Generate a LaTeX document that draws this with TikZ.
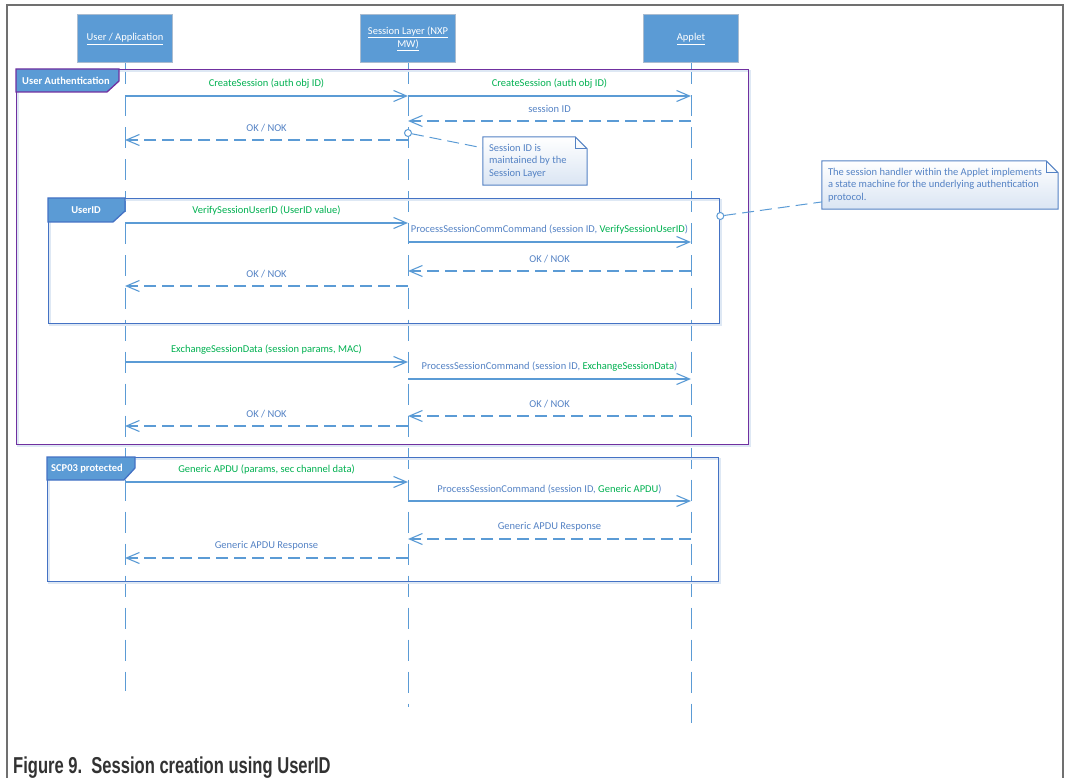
\documentclass[tikz,border=0pt]{standalone}
\usepackage{fontspec}
\setmainfont{Carlito}
\newfontfamily\capfont{Liberation Sans}
\usetikzlibrary{arrows.meta,calc}
\definecolor{boxblue}{RGB}{91,155,213}
\definecolor{boxedge}{RGB}{170,188,208}
\definecolor{lineblue}{RGB}{91,155,213}
\definecolor{textblue}{RGB}{84,130,196}
\definecolor{tgreen}{RGB}{0,176,80}
\definecolor{uapurple}{RGB}{112,48,160}
\definecolor{frameblue}{RGB}{68,114,196}
\definecolor{framegray}{RGB}{112,112,112}
\definecolor{shadowblue}{RGB}{222,232,244}
\definecolor{notebg}{RGB}{218,229,243}
\definecolor{noteedge}{RGB}{84,130,196}
\definecolor{captext}{RGB}{50,50,50}
\begin{document}
\begin{tikzpicture}[x=1pt,y=-1pt,
  font=\fontsize{10.5}{12.5}\selectfont,
  lifebox/.style={rectangle, fill=boxblue, draw=boxedge, line width=1pt,
    minimum width=95, minimum height=48, text=white, align=center, inner sep=2pt},
  lifeline/.style={draw=lineblue, line width=1pt, dash pattern=on 21pt off 11pt},
  msg/.style={draw=lineblue, line width=1.1pt,
    -{Straight Barb[length=13pt,width=11pt]}},
  reply/.style={msg, dash pattern=on 12pt off 6pt},
  lbl/.style={midway, yshift=12pt, text=textblue, inner sep=1pt},
  sframe/.style={rectangle, draw=#1, line width=1.3pt, inner sep=0pt,
    anchor=north west,
    preaction={draw=shadowblue, line width=2.5pt,
      transform canvas={xshift=1.5pt, yshift=-1.5pt}}},
  tabshape/.style={fill=boxblue, draw=#1, line width=1.3pt},
  tabtext/.style={text=white, font=\fontsize{10.5}{12.5}\selectfont\bfseries, inner sep=0pt},
  anchorcirc/.style={circle, draw=lineblue, line width=1pt, fill=white,
    minimum size=7pt, inner sep=0pt},
  notelink/.style={draw=lineblue, line width=1pt, dash pattern=on 12pt off 6pt},
  notebox/.style={rectangle, inner sep=0pt, draw=none},
  notefill/.style={draw=noteedge, line width=1pt, top color=white, bottom color=notebg},
  notetext/.style={anchor=west, align=left, text=textblue, inner sep=0pt,
    font=\fontsize{10.5}{12.3}\selectfont}
]
\useasboundingbox (0,0) rectangle (1066,778);

% outer figure border, open at the bottom
\draw[framegray, line width=1.5pt] (7,778) -- (7,5) -- (1063,5) -- (1063,778);

% participants
\node[lifebox] (user) at (125,39) {\underline{User / Application}};
\node[lifebox] (sess) at (408,39) {\underline{Session Layer (NXP}\\[0.5pt]\underline{MW)}};
\node[lifebox] (app)  at (691,39) {\underline{Applet}};

% lifelines
\coordinate (userend) at (125,691);
\coordinate (sessend) at (408,707);
\coordinate (append)  at (691,723);
\draw[lifeline] (user.south) -- (userend);
\draw[lifeline] (sess.south) -- (sessend);
\draw[lifeline] (app.south)  -- (append);

% combined fragments
\node[sframe=uapurple, minimum width=732, minimum height=375] (fua) at (16,69) {};
\draw[tabshape=uapurple] (fua.north west) -- ++(103,0) -- ++(0,12) -- ++(-12,11) -- ++(-91,0) -- cycle;
\node[tabtext] (tua) at ($(fua.north west)+(50,11.5)$) {User Authentication};

\node[sframe=frameblue, minimum width=671, minimum height=125] (fuid) at (48,198) {};
\draw[tabshape=frameblue] (fuid.north west) -- ++(77,0) -- ++(0,13) -- ++(-12,11) -- ++(-65,0) -- cycle;
\node[tabtext] (tuid) at ($(fuid.north west)+(38,12.5)$) {UserID};

\node[sframe=frameblue, minimum width=671, minimum height=124] (fscp) at (47,457) {};
\draw[tabshape=frameblue] (fscp.north west) -- ++(88,0) -- ++(0,11) -- ++(-11,12) -- ++(-77,0) -- cycle;
\node[tabtext] (tscp) at ($(fscp.north west)+(40,12)$) {SCP03 protected};

% message rows on the three lifelines
\foreach \r/\yy in {1/96,3/121,4/140,5/223,6/242,7/271,8/286,9/362,10/379,11/416,12/426,13/482,14/501,15/539,16/558}{
  \coordinate (u\r) at (user |- 0,\yy);
  \coordinate (s\r) at (sess |- 0,\yy);
  \coordinate (a\r) at (app  |- 0,\yy);
}

% User Authentication
\draw[msg]   (u1) -- node[lbl, text=tgreen] {CreateSession (auth obj ID)} (s1);
\draw[msg]   (s1) -- node[lbl, text=tgreen] {CreateSession (auth obj ID)} (a1);
\draw[reply] (a3) -- node[lbl] {session ID} (s3);
\draw[reply] (s4) -- node[lbl] {OK / NOK} (u4);

% UserID
\draw[msg]   (u5) -- node[lbl, text=tgreen] {VerifySessionUserID (UserID value)} (s5);
\draw[msg]   (s6) -- node[lbl] {ProcessSessionCommCommand (session ID, \textcolor{tgreen}{VerifySessionUserID})} (a6);
\draw[reply] (a7) -- node[lbl] {OK / NOK} (s7);
\draw[reply] (s8) -- node[lbl] {OK / NOK} (u8);

% session data exchange
\draw[msg]   (u9) -- node[lbl, text=tgreen] {ExchangeSessionData (session params, MAC)} (s9);
\draw[msg]   (s10) -- node[lbl] {ProcessSessionCommand (session ID, \textcolor{tgreen}{ExchangeSessionData})} (a10);
\draw[reply] (a11) -- node[lbl] {OK / NOK} (s11);
\draw[reply] (s12) -- node[lbl] {OK / NOK} (u12);

% SCP03 protected
\draw[msg]   (u13) -- node[lbl, text=tgreen] {Generic APDU (params, sec channel data)} (s13);
\draw[msg]   (s14) -- node[lbl] {ProcessSessionCommand (session ID, \textcolor{tgreen}{Generic APDU})} (a14);
\draw[reply] (a15) -- node[lbl] {Generic APDU Response} (s15);
\draw[reply] (s16) -- node[lbl] {Generic APDU Response} (u16);

% note on the session layer
\node[notebox, minimum width=104, minimum height=48] (n1) at (535,161) {};
\draw[notefill] (n1.north west) -- ($(n1.north east)+(-12,0)$) -- ($(n1.north east)+(0,12)$)
  -- (n1.south east) -- (n1.south west) -- cycle;
\draw[draw=noteedge, line width=1pt] ($(n1.north east)+(-12,0)$) -- ++(0,12) -- ++(12,0);
\node[notetext] (n1t) at ($(n1.west)+(6,0)$) {Session ID is\\maintained by the\\Session Layer};
\node[anchorcirc] (c1) at (sess |- 0,133) {};
\draw[notelink] (c1) -- ($(n1.south west)!0.77!(n1.north west)$);

% note on the UserID fragment
\node[notebox, minimum width=236, minimum height=48] (n2) at (940,185) {};
\draw[notefill] (n2.north west) -- ($(n2.north east)+(-12,0)$) -- ($(n2.north east)+(0,12)$)
  -- (n2.south east) -- (n2.south west) -- cycle;
\draw[draw=noteedge, line width=1pt] ($(n2.north east)+(-12,0)$) -- ++(0,12) -- ++(12,0);
\node[notetext] (n2t) at ($(n2.west)+(6,0)$) {The session handler within the Applet implements\\a state machine for the underlying authentication\\protocol.};
\node[anchorcirc] (c2) at (fuid.east |- 0,216) {};
\draw[notelink] (c2) -- ($(n2.south west)!0.15!(n2.north west)$);

% caption
\node[anchor=base west, inner sep=0pt, text=captext] (cap) at (13,773)
  {\scalebox{0.72}[1]{\capfont\bfseries\fontsize{23}{27}\selectfont Figure 9.\ \ Session creation using UserID}};
\end{tikzpicture}
\end{document}
